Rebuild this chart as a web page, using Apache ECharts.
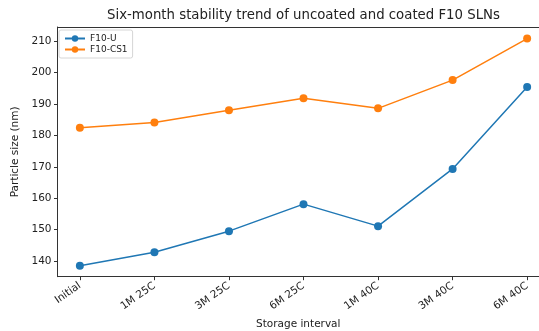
<!DOCTYPE html>
<html>
<head>
<meta charset="utf-8">
<script src="https://cdn.jsdelivr.net/npm/echarts@6/dist/echarts.min.js"></script>
<style>
  html, body { margin: 0; padding: 0; background: #fff; }
  #chart { width: 539px; height: 331px; }
</style>
</head>
<body>
<div id="chart"></div>
<script>
// Storage conditions along the x axis
const categories = ['Initial', '1M 25C', '3M 25C', '6M 25C', '1M 40C', '3M 40C', '6M 40C'];
// Particle size (nm) per formulation
const uncoated = [138.5, 142.8, 149.5, 158.1, 151.1, 169.3, 195.4];
const coated = [182.4, 184.1, 188.0, 191.8, 188.6, 197.6, 210.8];
const yTicks = [140, 150, 160, 170, 180, 190, 200, 210];
const xTicks = categories.map((_, i) => i);

const FONT = 'DejaVu Sans';
const chart = echarts.init(document.getElementById('chart'), null, { renderer: 'canvas' });

const toPoints = arr => arr.map((v, i) => [i, v]);

chart.setOption({
  animation: false,
  backgroundColor: '#fff',
  textStyle: { fontFamily: FONT },
  graphic: [{
    type: 'text',
    x: 303.5, y: 15.5,
    style: {
      text: 'Six-month stability trend of uncoated and coated F10 SLNs',
      font: '13.3px "DejaVu Sans"',
      fill: '#222',
      textAlign: 'center',
      textVerticalAlign: 'middle'
    }
  }],
  grid: {
    left: 57.5, top: 27, right: 0, height: 249.7,
    show: false,
    containLabel: false,
    outerBoundsMode: 'none'
  },
  legend: {
    left: 59, top: 30,
    orient: 'vertical',
    itemWidth: 20, itemHeight: 8, itemGap: 2,
    padding: [4, 5, 4, 5],
    backgroundColor: '#fff',
    borderColor: '#d6d6d6', borderWidth: 1, borderRadius: 2,
    textStyle: { fontFamily: FONT, fontSize: 9, color: '#222' },
    data: ['F10-U', 'F10-CS1']
  },
  xAxis: [{
    type: 'value',
    min: -0.3, max: 6.159,
    name: 'Storage interval',
    nameLocation: 'middle',
    nameGap: 42.5,
    nameTextStyle: { fontFamily: FONT, fontSize: 10.5, color: '#222' },
    axisLine: { show: true, onZero: false, lineStyle: { color: '#333', width: 1 } },
    axisTick: { show: true, customValues: xTicks, length: 3.5, lineStyle: { color: '#333' } },
    splitLine: { show: false },
    axisLabel: {
      customValues: xTicks,
      rotate: 35,
      margin: 8,
      fontFamily: FONT, fontSize: 10.5, color: '#222',
      formatter: v => categories[Math.round(v)]
    }
  }, {
    // top frame line
    type: 'value', position: 'top',
    min: -0.3, max: 6.159,
    axisLine: { show: true, onZero: false, lineStyle: { color: '#333', width: 1 } },
    axisTick: { show: false }, axisLabel: { show: false }, splitLine: { show: false }
  }],
  yAxis: {
    type: 'value',
    min: 135, max: 214.5,
    name: 'Particle size (nm)',
    nameLocation: 'middle',
    nameGap: 35,
    nameTextStyle: { fontFamily: FONT, fontSize: 10.5, color: '#222' },
    axisLine: { show: true, onZero: false, lineStyle: { color: '#333', width: 1 } },
    axisTick: { show: true, customValues: yTicks, length: 3.5, lineStyle: { color: '#333' } },
    splitLine: { show: false },
    axisLabel: {
      customValues: yTicks,
      margin: 6,
      fontFamily: FONT, fontSize: 10.5, color: '#222'
    }
  },
  series: [
    {
      name: 'F10-U', type: 'line',
      data: toPoints(uncoated),
      symbol: 'circle', symbolSize: 8,
      lineStyle: { color: '#1f77b4', width: 1.5 },
      itemStyle: { color: '#1f77b4' }
    },
    {
      name: 'F10-CS1', type: 'line',
      data: toPoints(coated),
      symbol: 'circle', symbolSize: 8,
      lineStyle: { color: '#ff7f0e', width: 1.5 },
      itemStyle: { color: '#ff7f0e' }
    }
  ]
});
</script>
</body>
</html>
